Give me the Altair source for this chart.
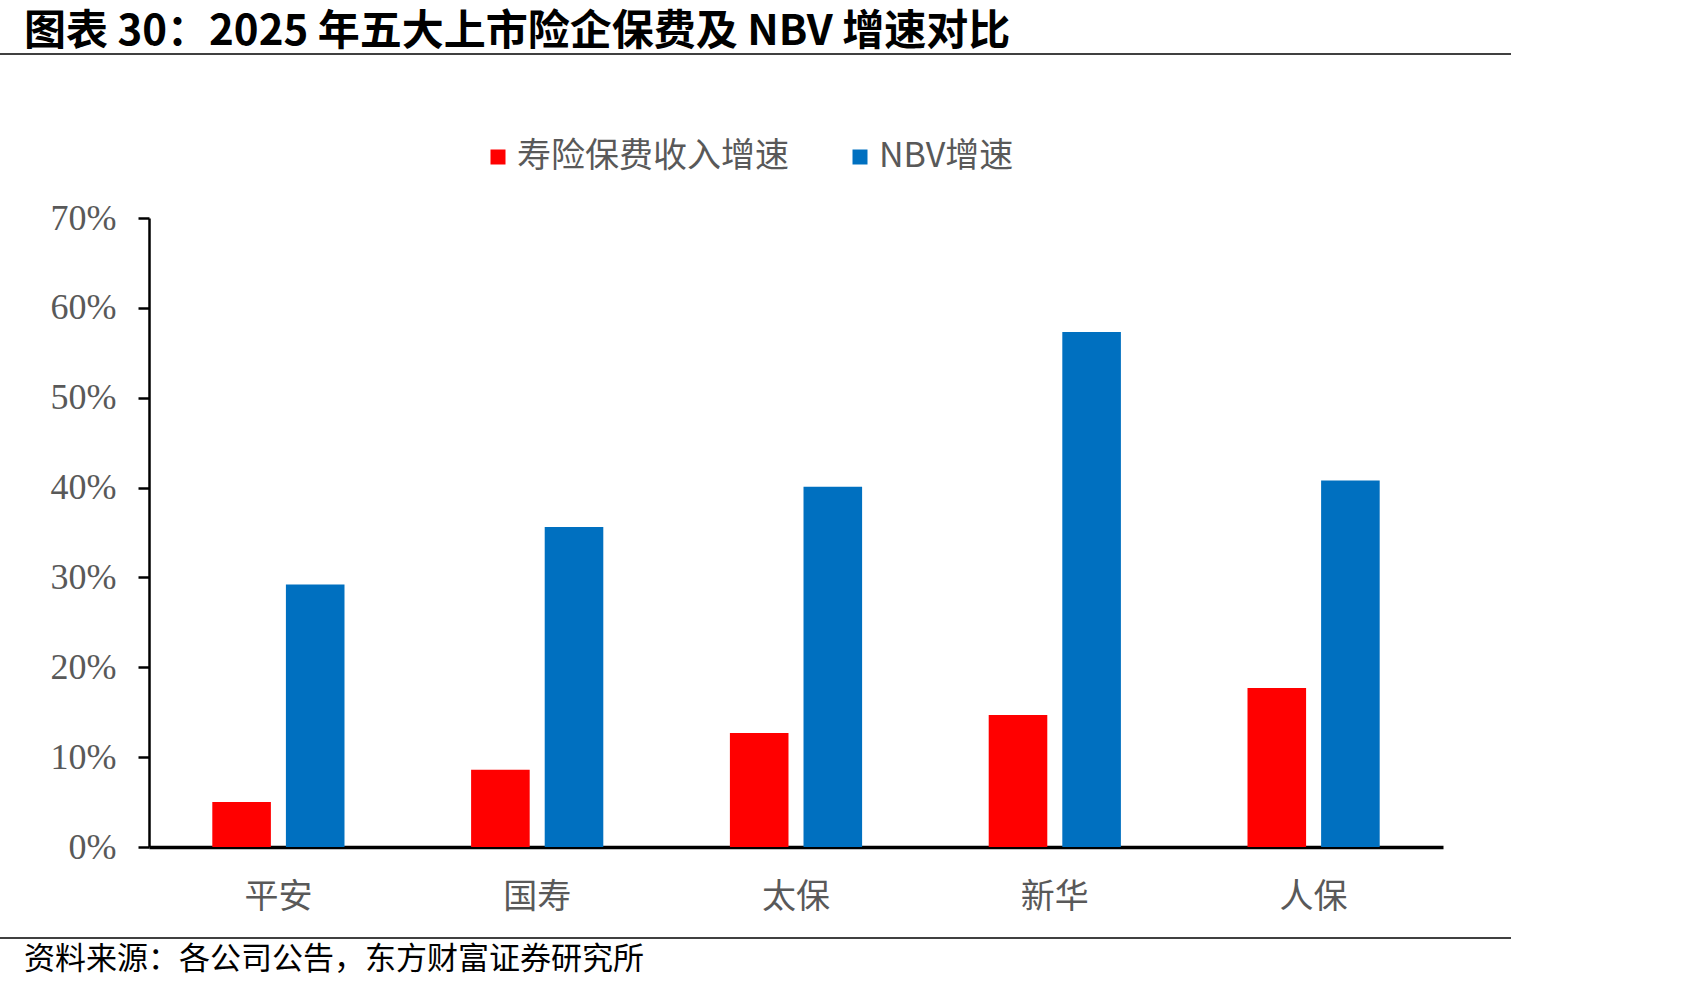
import altair as alt
import pandas as pd

companies = ["平安", "国寿", "太保", "新华", "人保"]
series_names = ["寿险保费收入增速", "NBV增速"]
premium_growth = [0.050, 0.086, 0.127, 0.147, 0.177]
nbv_growth = [0.292, 0.356, 0.401, 0.573, 0.408]
y_ticks = [0, 0.1, 0.2, 0.3, 0.4, 0.5, 0.6, 0.7]
colors = ["#FF0000", "#0070C0"]

title_text = "图表 30：2025 年五大上市险企保费及 NBV 增速对比"
source_text = "资料来源：各公司公告，东方财富证券研究所"

rows = []
for i, c in enumerate(companies):
    rows.append({"公司": c, "系列": series_names[0], "值": premium_growth[i]})
    rows.append({"公司": c, "系列": series_names[1], "值": nbv_growth[i]})
df = pd.DataFrame(rows)

CJK = "Noto Sans CJK SC"
GRAY = "#595959"

bars = alt.Chart(df).mark_bar().encode(
    x=alt.X("公司:N", sort=companies,
            scale=alt.Scale(paddingInner=0, paddingOuter=0),
            axis=alt.Axis(title=None, labelAngle=0, ticks=False, tickSize=0,
                          labelPadding=33, labelFont=CJK, labelFontSize=34,
                          labelColor=GRAY, domainColor="black", domainWidth=3.5,
                          grid=False)),
    xOffset=alt.XOffset("系列:N", sort=series_names,
                        scale=alt.Scale(paddingInner=0.204, paddingOuter=0.86)),
    y=alt.Y("值:Q", scale=alt.Scale(domain=[0, 0.7], nice=False),
            axis=alt.Axis(title=None, values=y_ticks, format=".0%",
                          labelFont="Liberation Serif", labelFontSize=36,
                          labelColor=GRAY, tickSize=11, tickColor="black",
                          tickWidth=2.5, domainColor="black", domainWidth=2.5,
                          labelPadding=22, grid=False)),
    color=alt.Color("系列:N", sort=series_names,
                    scale=alt.Scale(domain=series_names, range=colors),
                    legend=alt.Legend(title=None, orient="none", direction="horizontal",
                                      legendX=332, legendY=-78,
                                      symbolType="square", symbolSize=225,
                                      symbolStrokeWidth=0, labelFont=CJK,
                                      labelFontSize=34, labelColor=GRAY,
                                      labelLimit=0, labelOffset=2,
                                      columnPadding=54)),
)

title_df = pd.DataFrame({"t": [title_text]})
title_mark = alt.Chart(title_df).mark_text(
    align="left", baseline="middle", font=CJK, fontSize=42, fontWeight="bold",
    color="black"
).encode(x=alt.value(-125), y=alt.value(-186), text="t:N")

source_df = pd.DataFrame({"t": [source_text]})
source_mark = alt.Chart(source_df).mark_text(
    align="left", baseline="middle", font=CJK, fontSize=31, color="black"
).encode(x=alt.value(-125), y=alt.value(742), text="t:N")

rule_df = pd.DataFrame({"k": [0]})
top_rule = alt.Chart(rule_df).mark_rule(color="#404040", strokeWidth=2).encode(
    x=alt.value(-149), x2=alt.value(1362), y=alt.value(-164))
bottom_rule = alt.Chart(rule_df).mark_rule(color="#404040", strokeWidth=2).encode(
    x=alt.value(-149), x2=alt.value(1362), y=alt.value(720))

chart = alt.layer(bars, title_mark, source_mark, top_rule, bottom_rule).properties(
    width=1294, height=629,
    autosize=alt.AutoSizeParams(type="none"),
    padding={"left": 149, "top": 218, "right": 258, "bottom": 145},
    background="white",
).configure_view(stroke=None)

chart.save("out.html", embed_options={"renderer": "svg", "actions": False})
